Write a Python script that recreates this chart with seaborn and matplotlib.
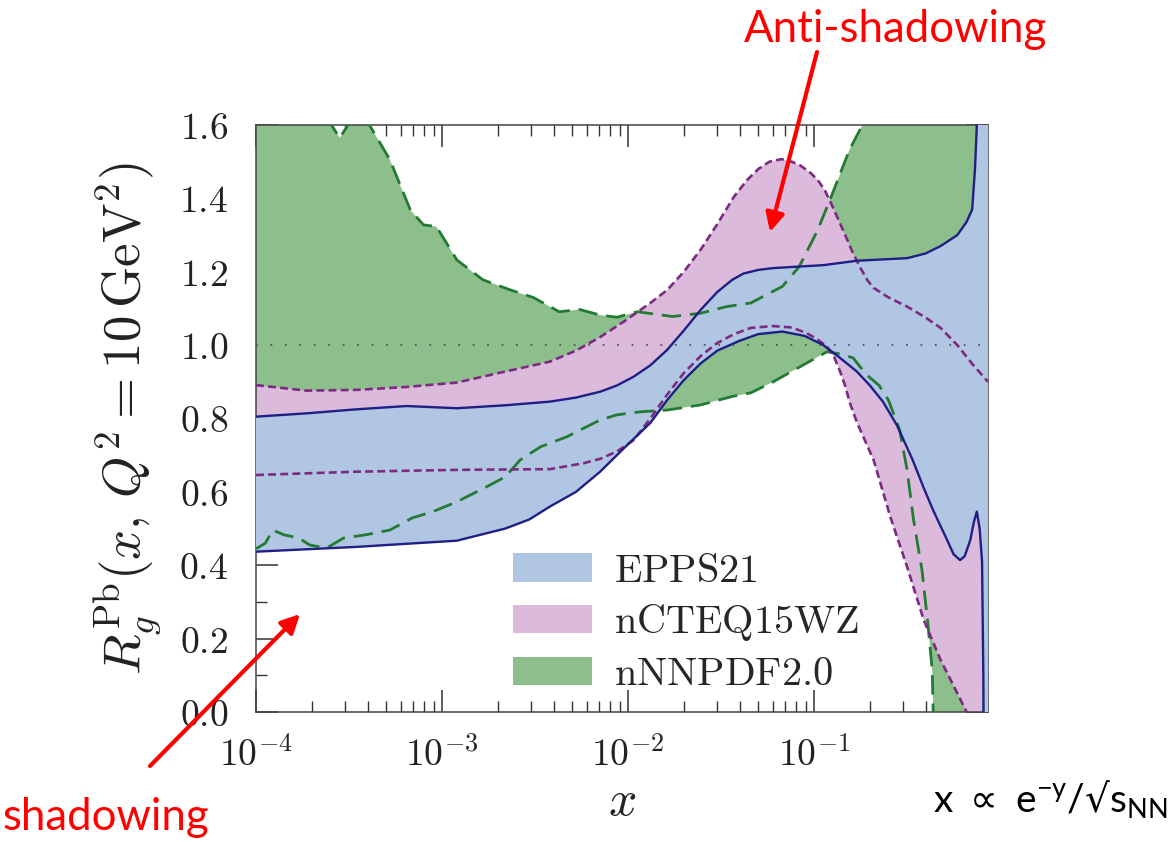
import numpy as np
import matplotlib
matplotlib.use("Agg")
import matplotlib.pyplot as plt
import seaborn as sns
import pandas as pd
from matplotlib.patches import Patch
from matplotlib.ticker import FuncFormatter, LogLocator, MultipleLocator, NullFormatter

# ---------------- data (log10 x, ratio) ----------------
epps_up_lx = [-4.0, -3.73, -3.46, -3.19, -2.92, -2.66, -2.42, -2.28, -2.15, -2.06, -1.97,
              -1.88, -1.79, -1.70, -1.61, -1.52, -1.44, -1.38, -1.30, -1.22, -0.95, -0.77,
              -0.50, -0.40, -0.32, -0.23, -0.18, -0.15, -0.135, -0.125, -0.115, -0.06]
epps_up = [0.805, 0.814, 0.825, 0.834, 0.828, 0.836, 0.846, 0.857, 0.873, 0.890, 0.914,
           0.945, 0.987, 1.040, 1.096, 1.145, 1.178, 1.195, 1.205, 1.210, 1.218, 1.230,
           1.237, 1.250, 1.270, 1.300, 1.336, 1.370, 1.480, 1.600, 1.750, 1.750]
epps_lo_lx = [-4.0, -3.46, -2.92, -2.66, -2.53, -2.42, -2.28, -2.15, -2.02, -1.88, -1.79,
              -1.70, -1.61, -1.52, -1.40, -1.30, -1.17, -1.05, -0.95, -0.86, -0.77, -0.70,
              -0.63, -0.555, -0.47, -0.41, -0.36, -0.285, -0.25, -0.215, -0.19, -0.16,
              -0.14, -0.125, -0.11, -0.097, -0.09, -0.088, -0.06]
epps_lo = [0.437, 0.450, 0.467, 0.500, 0.525, 0.560, 0.600, 0.655, 0.720, 0.788, 0.850,
           0.905, 0.950, 0.985, 1.012, 1.030, 1.037, 1.025, 1.000, 0.965, 0.928, 0.890,
           0.846, 0.782, 0.687, 0.610, 0.550, 0.469, 0.430, 0.414, 0.425, 0.469,
           0.520, 0.546, 0.500, 0.410, 0.100, -0.100, -0.100]

ncteq_up_lx = [-4.0, -3.73, -3.46, -3.19, -2.92, -2.66, -2.42, -2.28, -2.15, -2.02, -1.88,
               -1.79, -1.70, -1.61, -1.52, -1.43, -1.36, -1.30, -1.24, -1.175, -1.12,
               -1.075, -1.02, -0.98, -0.94, -0.90, -0.85, -0.79, -0.75, -0.715, -0.68,
               -0.60, -0.50, -0.40, -0.32, -0.23, -0.145, -0.065]
ncteq_up = [0.891, 0.876, 0.878, 0.886, 0.898, 0.928, 0.955, 0.985, 1.022, 1.065, 1.115,
            1.150, 1.200, 1.260, 1.330, 1.405, 1.450, 1.480, 1.500, 1.507, 1.500,
            1.490, 1.470, 1.450, 1.420, 1.377, 1.320, 1.250, 1.210, 1.178, 1.156,
            1.130, 1.105, 1.075, 1.047, 1.000, 0.946, 0.900]
ncteq_lo_lx = [-4.0, -3.46, -2.92, -2.42, -2.24, -2.15, -2.06, -1.97, -1.88, -1.79, -1.70,
               -1.61, -1.52, -1.43, -1.34, -1.22, -1.12, -1.04, -0.98, -0.93, -0.89, -0.86,
               -0.83, -0.81, -0.77, -0.68, -0.59, -0.50, -0.41, -0.32, -0.23, -0.18, -0.10]
ncteq_lo = [0.646, 0.655, 0.660, 0.662, 0.678, 0.690, 0.710, 0.741, 0.800, 0.865, 0.924,
            0.970, 1.006, 1.030, 1.047, 1.052, 1.048, 1.033, 1.015, 0.996, 0.965, 0.928,
            0.885, 0.846, 0.790, 0.687, 0.532, 0.396, 0.250, 0.142, 0.051, 0.000, -0.100]

nnpdf_up_lx = [-4.0, -3.62, -3.55, -3.48, -3.39, -3.28, -3.17, -3.10, -3.03, -2.92, -2.78,
               -2.63, -2.51, -2.37, -2.26, -2.15, -2.06, -1.95, -1.76, -1.61, -1.47,
               -1.34, -1.17, -1.08, -0.98, -0.90, -0.81, -0.72, -0.065]
nnpdf_up = [1.750, 1.620, 1.565, 1.620, 1.600, 1.505, 1.368, 1.328, 1.323, 1.232, 1.178,
            1.150, 1.130, 1.091, 1.097, 1.082, 1.076, 1.091, 1.078, 1.087, 1.105,
            1.115, 1.160, 1.214, 1.314, 1.415, 1.532, 1.620, 1.750]
nnpdf_lo_lx = [-4.0, -3.95, -3.91, -3.85, -3.77, -3.71, -3.62, -3.53, -3.41, -3.28, -3.16,
               -3.05, -2.92, -2.76, -2.66, -2.58, -2.47, -2.33, -2.15, -2.06, -1.94,
               -1.79, -1.61, -1.44, -1.34, -1.22, -1.04, -0.93, -0.85, -0.79, -0.72,
               -0.65, -0.60, -0.54, -0.50, -0.465, -0.42, -0.39, -0.365, -0.355, -0.065]
nnpdf_lo = [0.445, 0.460, 0.496, 0.483, 0.474, 0.455, 0.447, 0.474, 0.483, 0.496, 0.529,
            0.546, 0.573, 0.614, 0.641, 0.687, 0.723, 0.750, 0.796, 0.810, 0.818,
            0.823, 0.837, 0.860, 0.870, 0.900, 0.951, 0.982, 0.975, 0.965, 0.920,
            0.890, 0.850, 0.769, 0.660, 0.523, 0.387, 0.250, 0.115, -0.100, -0.100]

labels = ["EPPS21", "nCTEQ15WZ", "nNNPDF2.0"]

# ---------------- style ----------------
sns.set_theme(style="ticks")
plt.rcParams["mathtext.fontset"] = "cm"
plt.rcParams["font.family"] = ["DejaVu Serif"]

C_BLUE_F, C_BLUE_L = "#b0c6e2", "#1f1f85"
C_PINK_F, C_PINK_L = "#dbbadb", "#7d2b82"
C_GREEN_F, C_GREEN_L = "#8dbf8d", "#237a33"

fig = plt.figure(figsize=(11.75, 8.42), dpi=100)
ax = fig.add_axes([256 / 1175, 1 - 712 / 842, 732 / 1175, 587 / 842])
ax.set_xscale("log")


def band(lx_u, u, lx_l, l, color, z):
    xs = np.r_[10 ** np.array(lx_u), 10 ** np.array(lx_l)[::-1]]
    ys = np.r_[np.array(u), np.array(l)[::-1]]
    ax.fill(xs, ys, color=color, lw=0, zorder=z)


band(nnpdf_up_lx, nnpdf_up, nnpdf_lo_lx, nnpdf_lo, C_GREEN_F, 1)
band(ncteq_up_lx, ncteq_up, ncteq_lo_lx, ncteq_lo, C_PINK_F, 2)
band(epps_up_lx, epps_up, epps_lo_lx, epps_lo, C_BLUE_F, 3)


def line(lx, y, color, ls, lw):
    df = pd.DataFrame({"x": 10 ** np.array(lx), "y": y})
    sns.lineplot(data=df, x="x", y="y", ax=ax, color=color, lw=lw, sort=False,
                 estimator=None, linestyle=ls, zorder=5)


line(nnpdf_up_lx, nnpdf_up, C_GREEN_L, (0, (7, 3.2)), 2.0)
line(nnpdf_lo_lx, nnpdf_lo, C_GREEN_L, (0, (7, 3.2)), 2.0)
line(ncteq_up_lx, ncteq_up, C_PINK_L, (0, (3, 1.6)), 1.9)
line(ncteq_lo_lx, ncteq_lo, C_PINK_L, (0, (3, 1.6)), 1.9)
line(epps_up_lx, epps_up, C_BLUE_L, "-", 1.7)
line(epps_lo_lx, epps_lo, C_BLUE_L, "-", 1.7)

ax.axhline(1.0, color="#555555", lw=1.3, ls=(0, (1, 7)), zorder=6)

ax.set_xlim(1e-4, 10 ** -0.065)
ax.set_ylim(0.0, 1.6)

ax.xaxis.set_major_locator(LogLocator(base=10, numticks=10))
ax.xaxis.set_minor_locator(LogLocator(base=10, subs=np.arange(2, 10), numticks=20))
ax.xaxis.set_minor_formatter(NullFormatter())
ax.xaxis.set_major_formatter(FuncFormatter(lambda v, p: r"$\mathrm{10^{%d}}$" % round(np.log10(v))))
ax.yaxis.set_major_locator(MultipleLocator(0.2))
ax.yaxis.set_minor_locator(MultipleLocator(0.1))
ax.yaxis.set_major_formatter(FuncFormatter(lambda v, p: r"$\mathrm{%.1f}$" % v))

ax.tick_params(which="both", direction="in", top=True, right=True, colors="#333333",
               labelcolor="#222222")
ax.tick_params(which="major", length=16, width=1.1, labelsize=27, pad=18)
ax.tick_params(which="minor", length=8, width=1.0)
ax.tick_params(axis="y", which="major", pad=20)
for s in ax.spines.values():
    s.set_color("#444444")
    s.set_linewidth(1.1)

ax.set_xlabel(r"$x$", fontsize=36, labelpad=2, color="#222222")
ax.set_ylabel(r"$R_g^{\mathrm{Pb}}(x,\,Q^2 = 10\,\mathrm{GeV}^2)$", fontsize=38,
              labelpad=12, color="#222222")

handles = [Patch(facecolor=C_BLUE_F, edgecolor="none"),
           Patch(facecolor=C_PINK_F, edgecolor="none"),
           Patch(facecolor=C_GREEN_F, edgecolor="none")]
leg = ax.legend(handles, [r"$\mathrm{%s}$" % t for t in labels], loc="lower left",
                bbox_to_anchor=(0.302, -0.03), frameon=False, fontsize=29,
                handlelength=1.95, handleheight=0.7, labelspacing=0.32,
                handletextpad=0.55, borderpad=0.4)
leg.set_zorder(10)

# ---------------- annotations ----------------
red_font = ["Lato", "DejaVu Sans"]
fig.text(895 / 1175, 1 - 30 / 842, "Anti-shadowing", color="red", fontsize=31.5,
         family=red_font, ha="center", va="center")
fig.text(106 / 1175, 1 - 818 / 842, "shadowing", color="red", fontsize=31.5,
         family=red_font, ha="center", va="center")
fig.text(933 / 1175, 1 - 800 / 842,
         "x $\\propto$ e$^{\\mathregular{-y}}$/$\u221a$s$_{\\mathregular{NN}}$",
         color="black", fontsize=28, family=red_font, math_fontfamily="dejavusans",
         ha="left", va="center")

arrow_kw = dict(arrowstyle="-|>", color="red", lw=3, mutation_scale=28, shrinkA=0, shrinkB=0)
ax.annotate("", xy=(770, 842 - 232), xycoords="figure pixels", xytext=(817, 842 - 52),
            textcoords="figure pixels", arrowprops=arrow_kw, annotation_clip=False, zorder=20)
ax.annotate("", xy=(300, 842 - 614), xycoords="figure pixels", xytext=(150, 842 - 766),
            textcoords="figure pixels", arrowprops=arrow_kw, annotation_clip=False, zorder=20)

fig.savefig("out.png", dpi=100)
